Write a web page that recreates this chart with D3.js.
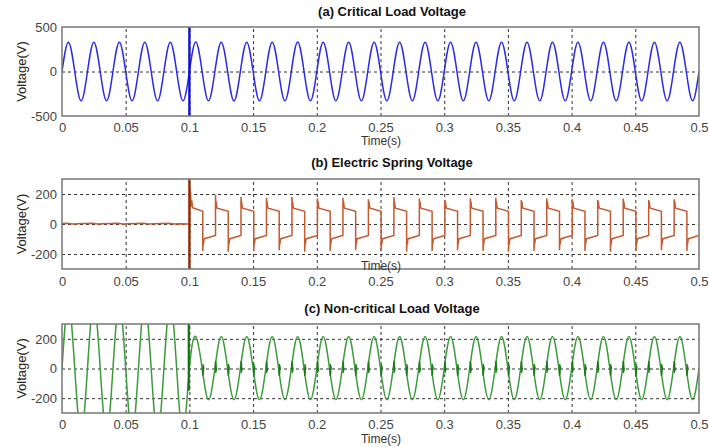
<!DOCTYPE html>
<html>
<head>
<meta charset="utf-8">
<script src="https://cdn.jsdelivr.net/npm/d3@7"></script>
<style>
  body { margin: 0; background: #fff; }
  svg text { font-family: "Liberation Sans", Arial, sans-serif; }
</style>
</head>
<body>
<div id="container"></div>
<script>
// ---- data ----
const xTicks = [0, 0.05, 0.1, 0.15, 0.2, 0.25, 0.3, 0.35, 0.4, 0.45, 0.5];
const titles = ["(a) Critical Load Voltage", "(b) Electric Spring Voltage", "(c) Non-critical Load Voltage"];
const yTicksA = [-500, 0, 500];
const yTicksBC = [-200, 0, 200];
const halfCycle = 0.01; // 50 Hz -> half period

// (a) half-cycle peaks, one per 0.01 s
const critPeaks = [330,-330,330,-330,330,-330,330,-330,330,-330,
                   332,-330,330,-332,330,-330,330,-330,332,-330,
                   330,-330,330,-330,330,-330,330,-330,330,-330,
                   330,-330,330,-330,330,-330,330,-330,330,-330,
                   330,-330,330,-330,330,-330,330,-330,330,-330];
const critSpikeT = 0.1;
const critSpikeV = [-520, 520];

// (b) electric spring voltage
const esPreT = [0, 0.004, 0.008, 0.012, 0.024, 0.028, 0.032, 0.044, 0.048, 0.052, 0.064, 0.068, 0.072, 0.084, 0.088, 0.092, 0.1];
const esPreV = [3, 5, 0, 2, 5, 0, 2, 5, 0, 2, 5, 0, 2, 5, 0, 2, 0];
const esOnsetT = [0.1, 0.1, 0.1, 0.1003, 0.1006, 0.1009, 0.1013, 0.1018, 0.1025];
const esOnsetV = [0, 330, -330, 250, 120, 215, 115, 160, 108];
const esSwitchT = [0.1105, 0.1205, 0.1305, 0.1405, 0.1505, 0.1605, 0.1705, 0.1805, 0.1905, 0.2005,
                   0.2105, 0.2205, 0.2305, 0.2405, 0.2505, 0.2605, 0.2705, 0.2805, 0.2905, 0.3005,
                   0.3105, 0.3205, 0.3305, 0.3405, 0.3505, 0.3605, 0.3705, 0.3805, 0.3905, 0.4005,
                   0.4105, 0.4205, 0.4305, 0.4405, 0.4505, 0.4605, 0.4705, 0.4805, 0.4905];
const esSpikeV = [-180, 195, -185, 180, -180, 175, -175, 180, -185, 170,
                  -180, 175, -175, 165, -180, 180, -185, 170, -180, 160,
                  -175, 170, -180, 175, -185, 160, -180, 170, -175, 165,
                  -180, 160, -185, 170, -180, 160, -175, 165, -180];
const esRingDt = [0.0003, 0.0005, 0.0009, 0.0013];
const esRingPos = [125, 150, 115, 105];
const esRingNeg = [-120, -135, -108, -98];
const esEndPos = 84;
const esEndNeg = -76;

// (c) non-critical load voltage, half-cycle peaks (clipped by axes before 0.1 s)
const ncPeaks = [440,-440,440,-440,440,-440,440,-440,440,-440,
                 215,-210,215,-210,215,-210,215,-210,215,-210,
                 215,-210,215,-210,215,-210,215,-210,215,-210,
                 215,-210,215,-210,215,-210,215,-210,215,-210,
                 215,-210,215,-210,215,-210,215,-210,215,-210];
const ncSpikeT = 0.0995;
const ncSpikeV = [330, -150];
const ncJagDt = [-0.0003, 0, 0.0002, 0.0004, 0.0006, 0.0009];
const ncJagV = [-5, 50, -30, 38, -18, 5];

// ---- layout ----
const width = 709, height = 447;
const xLeft = 62, xRight = 699;

const svg = d3.select("#container").append("svg")
  .attr("width", width)
  .attr("height", height);

const x = d3.scaleLinear().domain([0, 0.5]).range([xLeft, xRight]);

const panels = [
  {top: 27, bottom: 116, dom: [-500, 500], ticks: yTicksA, titleY: 16, timeY: 145, pad: 7},
  {top: 179, bottom: 269, dom: [-300, 300], ticks: yTicksBC, titleY: 167, timeY: 270, pad: 8},
  {top: 324, bottom: 413, dom: [-300, 300], ticks: yTicksBC, titleY: 313, timeY: 443, pad: 7}
];

function sineKnots(peaks) {
  const pts = [[0, 0]];
  peaks.forEach((p, k) => {
    pts.push([k * halfCycle + halfCycle / 2, p]);
    pts.push([(k + 1) * halfCycle, 0]);
  });
  return pts;
}

panels.forEach((p, i) => {
  const y = d3.scaleLinear().domain(p.dom).range([p.bottom, p.top]);
  const g = svg.append("g");

  g.append("clipPath").attr("id", "clip" + i)
    .append("rect")
    .attr("x", xLeft).attr("y", p.top)
    .attr("width", xRight - xLeft).attr("height", p.bottom - p.top);

  // grid
  g.append("g")
    .attr("transform", `translate(0,${p.bottom})`)
    .call(d3.axisBottom(x).tickValues(xTicks.slice(1, -1)).tickSize(-(p.bottom - p.top)).tickFormat(""))
    .call(a => a.select(".domain").remove())
    .selectAll("line")
    .attr("stroke", "#333").attr("stroke-dasharray", "3,3");
  g.append("g")
    .attr("transform", `translate(${xLeft},0)`)
    .call(d3.axisLeft(y).tickValues(p.ticks.filter(t => t > p.dom[0] && t < p.dom[1])).tickSize(-(xRight - xLeft)).tickFormat(""))
    .call(a => a.select(".domain").remove())
    .selectAll("line")
    .attr("stroke", "#333").attr("stroke-dasharray", "3,3");

  // tick labels
  g.append("g")
    .attr("transform", `translate(0,${p.bottom})`)
    .call(d3.axisBottom(x).tickValues(xTicks).tickSize(0).tickPadding(p.pad).tickFormat(d => String(d)))
    .call(a => a.select(".domain").remove())
    .selectAll("text")
    .attr("fill", "#444").style("font-size", "13px");
  g.append("g")
    .attr("transform", `translate(${xLeft},0)`)
    .call(d3.axisLeft(y).tickValues(p.ticks).tickSize(0).tickPadding(5).tickFormat(d => String(d)))
    .call(a => a.select(".domain").remove())
    .selectAll("text")
    .attr("fill", "#444").style("font-size", "13px");

  g.append("text")
    .attr("x", 392).attr("y", p.titleY)
    .attr("text-anchor", "middle")
    .style("font-size", "13px").style("font-weight", "bold")
    .attr("fill", "#111")
    .text(titles[i]);

  g.append("text")
    .attr("transform", `translate(26,${(p.top + p.bottom) / 2}) rotate(-90)`)
    .attr("text-anchor", "middle")
    .style("font-size", "13px")
    .attr("fill", "#222")
    .text("Voltage(V)");

  p.y = y;
});

// (a)
{
  const y = panels[0].y;
  const plot = svg.append("g").attr("clip-path", "url(#clip0)");
  plot.append("path")
    .datum(sineKnots(critPeaks))
    .attr("fill", "none").attr("stroke", "#2a2ae8").attr("stroke-width", 1.5)
    .attr("d", d3.line().x(d => x(d[0])).y(d => y(d[1])).curve(d3.curveNatural));
  plot.append("line")
    .attr("x1", x(critSpikeT)).attr("x2", x(critSpikeT))
    .attr("y1", y(critSpikeV[0])).attr("y2", y(critSpikeV[1]))
    .attr("stroke", "#1010d0").attr("stroke-width", 2.4);
}

// (b)
{
  const y = panels[1].y;
  const pts = esPreT.map((t, i) => [t, esPreV[i]]);
  esOnsetT.forEach((t, i) => pts.push([t, esOnsetV[i]]));
  esSwitchT.forEach((ts, i) => {
    const up = esSpikeV[i] > 0;
    const next = i + 1 < esSwitchT.length ? esSwitchT[i + 1] : 0.5;
    pts.push([ts, up ? esEndNeg : esEndPos]);
    pts.push([ts, esSpikeV[i]]);
    const ring = up ? esRingPos : esRingNeg;
    esRingDt.forEach((dt, j) => pts.push([ts + dt, ring[j]]));
    pts.push([next, up ? esEndPos : esEndNeg]);
  });
  const plot = svg.append("g").attr("clip-path", "url(#clip1)");
  plot.append("path")
    .datum(pts)
    .attr("fill", "none").attr("stroke", "#c45a30").attr("stroke-width", 1.5)
    .attr("d", d3.line().x(d => x(d[0])).y(d => y(d[1])));
  plot.append("line")
    .attr("x1", x(0.1)).attr("x2", x(0.1))
    .attr("y1", y(330)).attr("y2", y(-330))
    .attr("stroke", "#8a2a00").attr("stroke-width", 2.2);
}

// (c)
{
  const y = panels[2].y;
  const plot = svg.append("g").attr("clip-path", "url(#clip2)");
  plot.append("path")
    .datum(sineKnots(ncPeaks))
    .attr("fill", "none").attr("stroke", "#3c9c3c").attr("stroke-width", 1.5)
    .attr("d", d3.line().x(d => x(d[0])).y(d => y(d[1])).curve(d3.curveNatural));
  esSwitchT.forEach((ts, i) => {
    const s = esSpikeV[i] > 0 ? 1 : -1;
    plot.append("path")
      .datum(ncJagDt.map((dt, j) => [ts + dt, s * ncJagV[j]]))
      .attr("fill", "none").attr("stroke", "#1f7a1f").attr("stroke-width", 1.3)
      .attr("d", d3.line().x(d => x(d[0])).y(d => y(d[1])));
  });
  plot.append("line")
    .attr("x1", x(ncSpikeT)).attr("x2", x(ncSpikeT))
    .attr("y1", y(ncSpikeV[0])).attr("y2", y(ncSpikeV[1]))
    .attr("stroke", "#137013").attr("stroke-width", 2.2);
}

// frames + Time labels on top
panels.forEach(p => {
  svg.append("rect")
    .attr("x", xLeft).attr("y", p.top)
    .attr("width", xRight - xLeft).attr("height", p.bottom - p.top)
    .attr("fill", "none").attr("stroke", "#777").attr("stroke-width", 1.5);
  svg.append("text")
    .attr("x", 381).attr("y", p.timeY)
    .attr("text-anchor", "middle")
    .style("font-size", "12px")
    .attr("fill", "#333")
    .text("Time(s)");
});
</script>
</body>
</html>
